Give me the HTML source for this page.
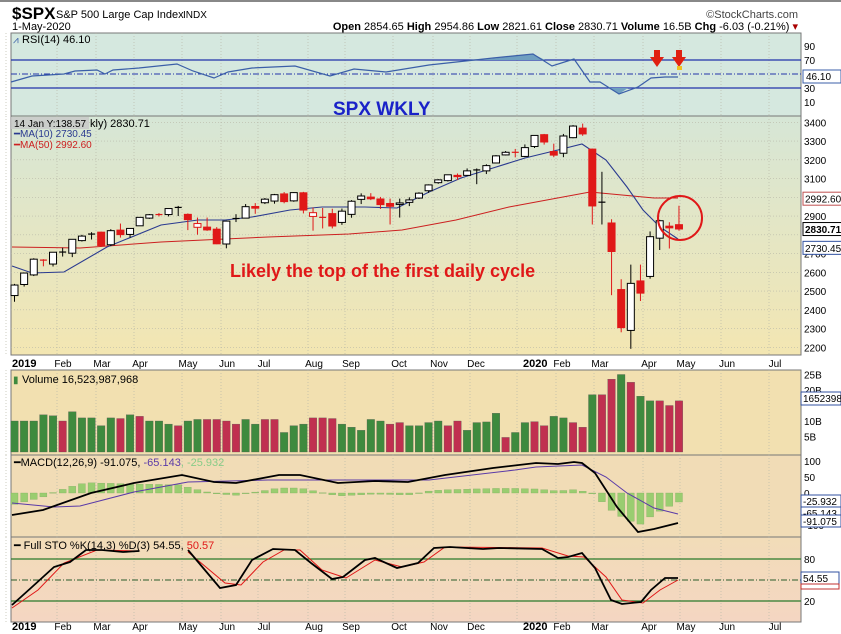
<!DOCTYPE html>
<html><head><meta charset="utf-8"><style>
html,body{margin:0;padding:0;background:#fff;width:841px;height:634px;overflow:hidden}
svg{display:block;font-family:"Liberation Sans",sans-serif}
</style></head><body>
<svg id="s" width="841" height="634" xmlns="http://www.w3.org/2000/svg">
<defs>
<linearGradient id="pg" x1="0" y1="0" x2="0" y2="1"><stop offset="0" stop-color="#d6e6d6"/><stop offset="1" stop-color="#f3e6b2"/></linearGradient>
<linearGradient id="sg" x1="0" y1="0" x2="0" y2="1"><stop offset="0" stop-color="#f2dcb8"/><stop offset="1" stop-color="#f4d6c2"/></linearGradient>
</defs>
<rect x="0" y="0" width="841" height="634" fill="#fff"/>
<line x1="0" y1="1" x2="841" y2="1" stroke="#888" stroke-width="2"/>
<text x="12" y="19" font-size="17" font-weight="bold">$SPX</text>
<text x="56" y="18" font-size="11">S&amp;P 500 Large Cap Index</text>
<text x="183" y="18" font-size="10">INDX</text>
<text x="798" y="18" font-size="11" text-anchor="end" fill="#444">©StockCharts.com</text>
<text x="12" y="30" font-size="11">1-May-2020</text>
<text x="798" y="30" font-size="11" text-anchor="end"><tspan font-weight="bold">Open</tspan> 2854.65 <tspan font-weight="bold">High</tspan> 2954.86 <tspan font-weight="bold">Low</tspan> 2821.61 <tspan font-weight="bold">Close</tspan> 2830.71 <tspan font-weight="bold">Volume</tspan> 16.5B <tspan font-weight="bold">Chg</tspan> -6.03 (-0.21%) <tspan fill="#a00">▾</tspan></text>
<rect x="11" y="33" width="790" height="83" fill="#d5e8df" stroke="#777"/>
<rect x="11" y="116" width="790" height="239" fill="url(#pg)" stroke="#777"/>
<rect x="11" y="370" width="790" height="85" fill="#f2e0b0" stroke="#777"/>
<rect x="11" y="455" width="790" height="82" fill="#f1dcb6" stroke="#777"/>
<rect x="11" y="537" width="790" height="85" fill="url(#sg)" stroke="#777"/>
<g id="g"></g>
</svg>
<script>
var S=document.getElementById('g'),NS='http://www.w3.org/2000/svg';
function el(t,a,txt){var e=document.createElementNS(NS,t);for(var k in a)e.setAttribute(k,a[k]);if(txt!=null)e.textContent=txt;S.appendChild(e);return e;}
function poly(pts,c,w,extra){var a={points:pts.map(p=>p.join(',')).join(' '),fill:'none',stroke:c,'stroke-width':w};for(var k in extra)a[k]=extra[k];el('polyline',a);}
function X(i){return 14.5+i*9.63;}
function PY(p){return 122.3+(3400-p)*0.1875;}
var months=[[12,'2019',1],[63,'Feb'],[102,'Mar'],[140,'Apr'],[188,'May'],[227,'Jun'],[264,'Jul'],[314,'Aug'],[351,'Sep'],[399,'Oct'],[439,'Nov'],[476,'Dec'],[523,'2020',1],[562,'Feb'],[600,'Mar'],[649,'Apr'],[686,'May'],[727,'Jun'],[775,'Jul']];
months.forEach(function(m){var x=m[0]-6;[[33,116],[116,355],[370,455],[455,537],[537,622]].forEach(function(r){el('line',{x1:x,y1:r[0],x2:x,y2:r[1],stroke:'#b8b8a8','stroke-width':0.7,'stroke-dasharray':'1,2'});});});
for(var p=2200;p<=3400;p+=100){var y=PY(p);el('line',{x1:11,y1:y,x2:801,y2:y,stroke:'#b8b8a8','stroke-width':0.7,'stroke-dasharray':'1,2'});if(p!=2800)el('text',{x:804,y:y+4,'font-size':10},p);}
months.forEach(function(m){[367,630].forEach(function(y){el('text',{x:m[0],y:y,'font-size':m[2]?11:10,'font-weight':m[2]?'bold':'normal','text-anchor':m[2]?'start':'middle'},m[1]);});});
function RY(v){return 60+(70-v)*0.7;}
[70,30].forEach(function(l){el('line',{x1:11,y1:RY(l),x2:801,y2:RY(l),stroke:'#2233aa','stroke-width':1.2});});
el('line',{x1:11,y1:RY(50),x2:801,y2:RY(50),stroke:'#2233aa','stroke-width':1,'stroke-dasharray':'6,2,1,2'});
[[90,46],[70,60],[30,88],[10,102]].forEach(function(a){el('text',{x:804,y:a[1]+4,'font-size':10},a[0]);});
var rsi=[[11,82],[32,76],[64,74],[75,71],[97,70],[105,74],[113,70],[139,68],[177,64],[193,71],[214,78],[228,72],[252,68],[295,66],[330,76],[354,69],[386,72],[429,65],[493,58],[533,54],[552,66],[574,59],[590,82],[600,82],[619,94],[638,87],[651,78],[665,77],[678,77]];
el('polygon',{points:'480,60 533,54 545,60',fill:'#6f9fc0'});
el('polygon',{points:'608,88 619,94 628,88',fill:'#6f9fc0'});
poly(rsi,'#3b5fa8',1.2);
el('rect',{x:803,y:70,width:38,height:13,fill:'#fff',stroke:'#3b5fa8'});
el('text',{x:806,y:80,'font-size':10},'46.10');
el('text',{x:22,y:43,'font-size':11},'RSI(14) 46.10');
el('text',{x:13,y:43,'font-size':10,fill:'#3b5fa8'},'⩘');
[657,679].forEach(function(x){el('rect',{x:x-3,y:50,width:6,height:8,fill:'#e02010'});el('polygon',{points:(x-7)+',57 '+(x+7)+',57 '+x+',67',fill:'#e02010'});});
el('rect',{x:677,y:66,width:5,height:4,fill:'#f0c020'});
el('text',{x:333,y:115,'font-size':19,'font-weight':'bold',fill:'#1a22c8'},'SPX WKLY');
var d=[[2476,2538,2443,2532],[2535,2597,2524,2596],[2586,2675,2580,2670],[2659,2670,2632,2665],[2644,2708,2631,2707],[2706,2731,2684,2708],[2702,2776,2681,2776],[2769,2800,2764,2793],[2799,2814,2775,2804],[2814,2817,2736,2743],[2747,2830,2740,2822],[2825,2860,2785,2801],[2802,2836,2785,2834],[2848,2893,2848,2893],[2889,2911,2885,2907],[2908,2916,2898,2905],[2908,2940,2898,2940],[2945,2954,2900,2946],[2909,2914,2825,2881],[2840,2892,2801,2860],[2841,2892,2821,2826],[2830,2841,2750,2752],[2751,2876,2728,2873],[2885,2910,2868,2887],[2889,2964,2887,2950],[2951,2969,2912,2942],[2971,2996,2964,2990],[2980,3018,2966,3014],[3018,3028,2968,2977],[2981,3027,2976,3025],[3024,3029,2914,2932],[2898,2945,2822,2918],[2893,2943,2834,2889],[2913,2939,2834,2847],[2866,2940,2853,2926],[2909,2985,2891,2979],[2989,3021,2964,3007],[3001,3022,2985,2992],[2991,3002,2938,2961],[2967,2993,2855,2952],[2962,2993,2892,2970],[2973,3000,2953,2986],[2996,3027,2991,3022],[3035,3069,3024,3066],[3078,3097,3072,3093],[3089,3120,3084,3120],[3117,3127,3092,3110],[3117,3154,3113,3141],[3144,3154,3070,3146],[3141,3176,3124,3169],[3183,3225,3183,3221],[3226,3247,3223,3240],[3240,3258,3213,3235],[3218,3282,3214,3265],[3271,3330,3263,3330],[3334,3338,3281,3295],[3244,3286,3214,3225],[3235,3338,3214,3327],[3318,3385,3315,3380],[3369,3393,3328,3338],[3257,3260,2855,2954],[2974,3136,2855,2972],[2863,2883,2478,2711],[2508,2563,2280,2305],[2290,2641,2192,2541],[2554,2641,2447,2489],[2578,2818,2566,2790],[2782,2880,2719,2875],[2846,2867,2727,2837],[2854,2955,2822,2831]];
poly([[12,247],[80,248],[161,242],[225,239],[268,237],[349,234],[402,230],[456,220],[509,207],[563,197],[590,192],[622,195],[654,198],[678,198]],'#cc2020',1);
poly([[12,266],[32,273],[64,272],[107,247],[161,225],[198,220],[225,220],[252,217],[290,210],[322,207],[365,207],[397,208],[429,192],[461,178],[493,168],[525,158],[558,150],[582,144],[606,160],[627,187],[643,210],[660,227],[678,239]],'#2a3a90',1.1);
d.forEach(function(c,i){var x=X(i),o=c[0],h=c[1],l=c[2],cl=c[3];var prev=i?d[i-1][3]:2480;var col=cl>=prev?'#000':'#e01818';
el('line',{x1:x,y1:PY(h),x2:x,y2:PY(l),stroke:col,'stroke-width':1});
var t=PY(Math.max(o,cl)),b=PY(Math.min(o,cl));if(b-t<1.2){el('line',{x1:x-3.5,y1:t,x2:x+3.5,y2:t,stroke:col,'stroke-width':1.2});}
else el('rect',{x:x-3.5,y:t,width:7,height:b-t,fill:cl<o?col:'#fff',stroke:col,'stroke-width':1});});
el('circle',{cx:680,cy:218,r:22,fill:'none',stroke:'#e01818','stroke-width':2});
el('text',{x:230,y:277,'font-size':18,'font-weight':'bold',fill:'#e01818'},'Likely the top of the first daily cycle');
el('rect',{x:11,y:117,width:78,height:12,fill:'#c8c8c8',opacity:0.8});
el('text',{x:14,y:127,'font-size':10},'14 Jan Y:138.57');
el('text',{x:90,y:127,'font-size':11},'kly) 2830.71');
el('text',{x:14,y:137,'font-size':10,fill:'#2a3a90'},'━MA(10) 2730.45');
el('text',{x:14,y:148,'font-size':10,fill:'#cc2020'},'━MA(50) 2992.60');
[[2992.6,'2992.60','#c05050',0],[2830.71,'2830.71','#000',1],[2730.45,'2730.45','#3050a0',0]].forEach(function(a){var y=PY(a[0]);el('rect',{x:803,y:y-6.5,width:40,height:13,fill:'#fff',stroke:a[2]});el('text',{x:805,y:y+4,'font-size':10,'font-weight':a[3]?'bold':'normal'},a[1]);});
var vol=[10,12,11.7,10,13,11,11,8.5,11,10.8,12,11.5,10,10,9,8.5,10,10.5,10.5,10.5,10,9,10.5,9,10.5,10.5,6.3,8.5,9,11,11,10.8,9,8,7,10.5,10,9,9.5,8.5,8.5,9.5,10,8.5,10,7,9.5,9.7,12.5,4.7,6.3,9.5,9.8,8.5,11.5,11,9.5,8,18.5,18.5,23.5,25,22.5,18,16.5,16.5,15,16.5];
var vc='gggrgggggrgrgggrggrrrrggrrgggrrrgggggrrggggrrggggrggrrggrrgrrgrggrr';
var vs=70-vol.length;
for(var i=0;i<70;i++){var j=Math.max(0,i-vs);var v=vol[j];var up=vc[j]=='g';el('rect',{x:X(i)-3.8,y:452-v*3.1,width:7.6,height:v*3.1,fill:up?'#3e8a3e':'#c03050',stroke:'#555','stroke-width':0.3});}
[[25,'25B'],[20,'20B'],[10,'10B'],[5,'5B']].forEach(function(a){el('text',{x:804,y:452-a[0]*3.1+4,'font-size':10},a[1]);});
el('rect',{x:801,y:392,width:40,height:13,fill:'#fff',stroke:'#3050a0'});el('text',{x:803,y:402,'font-size':10},'1652398');
el('text',{x:22,y:383,'font-size':11},'Volume 16,523,987,968');el('text',{x:13,y:383,'font-size':10,fill:'#3e8a3e'},'▮');
var mac=[[12,515],[43,510],[91,493],[134,483],[182,475],[214,482],[236,483],[279,475],[300,475],[338,483],[375,481],[408,482],[445,475],[493,468],[536,463],[558,464],[574,462],[582,463],[595,473],[617,507],[638,532],[654,529],[678,523]];
var sig=[[12,503],[54,507],[80,506],[134,492],[188,482],[268,480],[349,480],[429,480],[515,470],[536,467],[582,465],[606,477],[627,493],[654,508],[678,514]];
function interp(a,x){for(var k=1;k<a.length;k++){if(x<=a[k][0]){var t=(x-a[k-1][0])/(a[k][0]-a[k-1][0]);return a[k-1][1]+t*(a[k][1]-a[k-1][1]);}}return a[a.length-1][1];}
for(var i=0;i<70;i++){var x=X(i);var h=interp(sig,x)-interp(mac,x);el('rect',{x:x-3.5,y:Math.min(493,493-h),width:7,height:Math.max(0.6,Math.abs(h)),fill:'#9acd70',stroke:'#7aa860','stroke-width':0.3});}
poly(sig,'#5a3aa8',1);poly(mac,'#000',1.8);
[[100,'100'],[50,'50'],[0,'0'],[-50,'-50'],[-100,'-100']].forEach(function(a){el('text',{x:804,y:493-a[0]*0.32+4,'font-size':10},a[1]);});
[[501,'-25.932'],[513,'-65.143'],[521,'-91.075']].forEach(function(a){el('rect',{x:801,y:a[0]-6,width:40,height:12,fill:'#fff',stroke:'#3050a0'});el('text',{x:803,y:a[0]+4,'font-size':10},a[1]);});
var mt=el('text',{x:14,y:466,'font-size':11},'');mt.innerHTML='━<tspan>MACD(12,26,9) -91.075, </tspan><tspan fill="#5a3aa8">-65.143</tspan><tspan fill="#8c8">, -25.932</tspan>';
function SY(v){return 559+(80-v)*0.7;}
el('line',{x1:11,y1:SY(80),x2:801,y2:SY(80),stroke:'#2a7a2a','stroke-width':1.2});
el('line',{x1:11,y1:SY(20),x2:801,y2:SY(20),stroke:'#2a7a2a','stroke-width':1.2});
el('line',{x1:11,y1:SY(50),x2:801,y2:SY(50),stroke:'#2a5a2a','stroke-width':1,'stroke-dasharray':'6,2,1,2'});
el('text',{x:804,y:563,'font-size':10},'80');el('text',{x:804,y:605,'font-size':10},'20');
poly([[12,608],[38,590],[64,563],[97,550],[139,551]],'#e01818',1);
poly([[188,552],[225,583],[241,585],[263,562],[284,550],[300,550],[322,570],[346,578],[375,560],[402,567],[424,562],[445,547],[542,548],[568,556],[584,557],[606,577],[622,600],[643,603],[660,590],[678,580]],'#e01818',1);
poly([[12,605],[32,587],[54,567],[70,562],[86,550],[102,550],[123,552],[139,551]],'#000',1.8);
poly([[188,550],[220,588],[236,585],[252,560],[273,549],[295,550],[311,563],[332,579],[343,577],[365,560],[375,558],[397,568],[418,563],[434,548],[450,547],[483,549],[499,548],[542,549],[558,558],[568,557],[582,553],[595,568],[611,600],[622,604],[641,602],[651,590],[665,578],[678,578]],'#000',1.8);
el('rect',{x:801,y:572,width:38,height:12,fill:'#fff',stroke:'#3050a0'});el('text',{x:803,y:582,'font-size':10},'54.55');
el('rect',{x:801,y:584,width:38,height:5,fill:'#fff',stroke:'#c03030'});
var st=el('text',{x:14,y:549,'font-size':11},'');st.innerHTML='━ Full STO %K(14,3) %D(3) 54.55, <tspan fill="#e01818">50.57</tspan>';
</script>
</body></html>
